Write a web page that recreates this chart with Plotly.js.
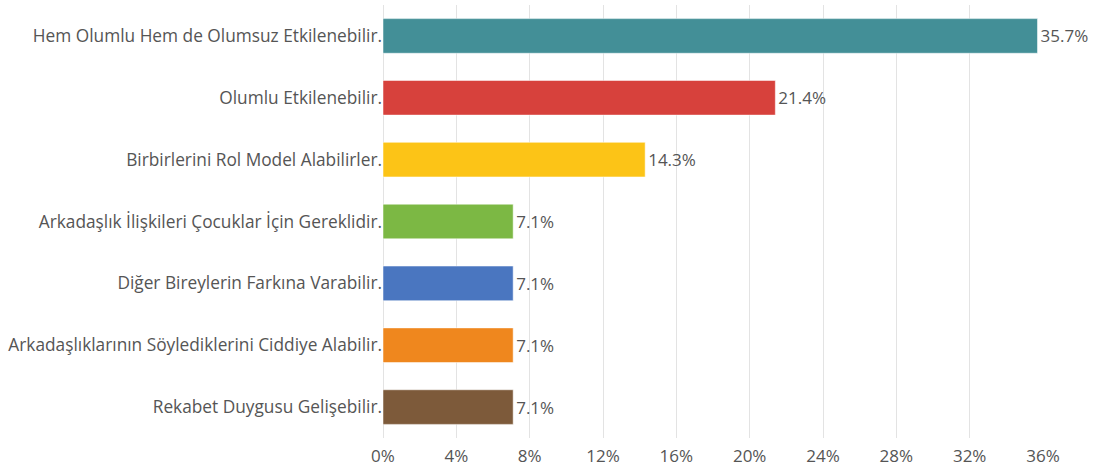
<!DOCTYPE html>
<html><head><meta charset="utf-8">
<script src="https://cdn.plot.ly/plotly-3.0.1.min.js"></script>
<style>body{margin:0;background:#fff}#c{width:1098px;height:470px}</style>
</head><body><div id="c"></div>
<script>
const categories = [
  "Hem Olumlu Hem de Olumsuz Etkilenebilir.",
  "Olumlu Etkilenebilir.",
  "Birbirlerini Rol Model Alabilirler.",
  "Arkadaşlık İlişkileri Çocuklar İçin Gereklidir.",
  "Diğer Bireylerin Farkına Varabilir.",
  "Arkadaşlıklarının Söylediklerini Ciddiye Alabilir.",
  "Rekabet Duygusu Gelişebilir."
];
const values = [35.7, 21.4, 14.3, 7.1, 7.1, 7.1, 7.1];
const colors = ["#438f97", "#d7413c", "#fcc417", "#7cb844", "#4a76c0", "#ef871e", "#7d5a3a"];
const tickVals = [0, 4, 8, 12, 16, 20, 24, 28, 32, 36];
const tickText = tickVals.map(v => v + "%");

const F = "Open Sans";
Plotly.newPlot("c", [{
  type: "bar", orientation: "h",
  y: categories, x: values,
  marker: {color: colors, line: {color: "rgba(255,255,255,0.5)", width: 1}},
  text: values.map(v => v.toFixed(1) + "%"),
  textposition: "outside", cliponaxis: false,
  textfont: {family: F, size: 17, color: "#555"},
  width: 0.56, hoverinfo: "none"
}], {
  width: 1098, height: 470,
  margin: {l: 383, r: 55, t: 5, b: 32},
  paper_bgcolor: "#fff", plot_bgcolor: "#fff",
  showlegend: false,
  font: {family: F, size: 17, color: "#555"},
  xaxis: {range: [0, 36], tickvals: tickVals, ticktext: tickText, showgrid: true,
          gridcolor: "#e3e3e3", zeroline: true, zerolinecolor: "#e3e3e3", zerolinewidth: 1,
          tickfont: {family: F, size: 17, color: "#555"}, ticks: "", ticklabelstandoff: 6, fixedrange: true},
  yaxis: {autorange: "reversed", showgrid: false, zeroline: false, ticks: "", ticklen: 0,
          tickfont: {family: F, size: 17.3, color: "#555"}, automargin: false}
}, {displayModeBar: false, staticPlot: true});
</script></body></html>
